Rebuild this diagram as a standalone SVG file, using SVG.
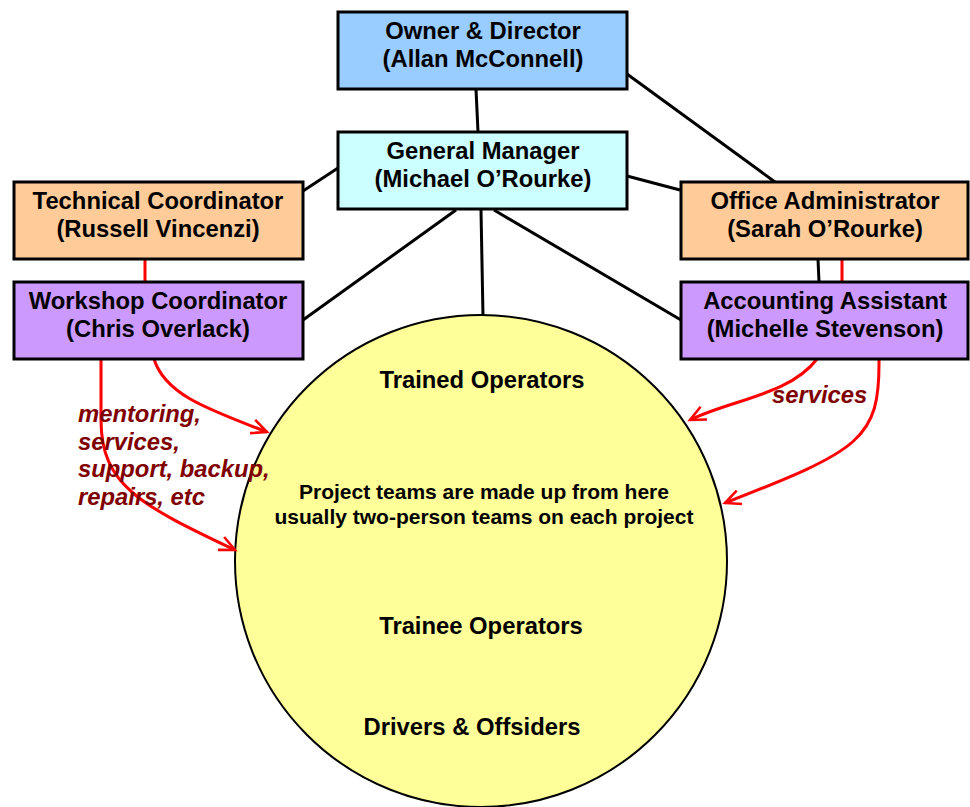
<svg xmlns="http://www.w3.org/2000/svg" width="970" height="807" viewBox="0 0 970 807">
<style>
.box{stroke:#000;stroke-width:3}
.t{font-family:"Liberation Sans",Arial,sans-serif;font-weight:bold;font-size:23.8px;fill:#000;text-anchor:middle}
.c{font-family:"Liberation Sans",Arial,sans-serif;font-weight:bold;fill:#000;text-anchor:middle}
.lbl{font-family:"Liberation Sans",Arial,sans-serif;font-weight:bold;font-style:italic;font-size:23.8px;fill:#800000}
.bl{stroke:#000;stroke-width:3;fill:none}
.rd{stroke:#f00;stroke-width:3;fill:none}
.ar{stroke:#f00;stroke-width:3;fill:none;marker-end:url(#arr)}
</style>
<defs>
<marker id="arr" viewBox="0 0 20 20" refX="17" refY="10" markerWidth="22" markerHeight="22" orient="auto" markerUnits="userSpaceOnUse">
<path d="M3,3.5 L17,10 L3,16.5" fill="none" stroke="#f00" stroke-width="2.3"/>
</marker>
</defs>
<rect width="970" height="807" fill="#fff"/>
<g id="pool">
<circle cx="481" cy="561" r="246" fill="#FFFF99" stroke="#000" stroke-width="2"/>
<text class="c" x="482" y="388" font-size="23.8">Trained Operators</text>
<text class="c" x="484" y="499" font-size="21">Project teams are made up from here</text>
<text class="c" x="484" y="524" font-size="21">usually two-person teams on each project</text>
<text class="c" x="481" y="634" font-size="23.8">Trainee Operators</text>
<text class="c" x="472" y="735" font-size="23.8">Drivers &amp; Offsiders</text>
</g>
<g id="connectors">
<line class="bl" x1="476" y1="89" x2="478" y2="132"/>
<line class="bl" x1="627" y1="74" x2="775" y2="182"/>
<line class="bl" x1="338" y1="168" x2="303" y2="191"/>
<line class="bl" x1="627" y1="176" x2="680" y2="190"/>
<line class="bl" x1="456" y1="210" x2="303" y2="320"/>
<line class="bl" x1="481" y1="210" x2="483" y2="316"/>
<line class="bl" x1="494" y1="210" x2="681" y2="320"/>
<line class="bl" x1="818" y1="259" x2="819" y2="282"/>
<line class="rd" x1="145" y1="259" x2="145" y2="282"/>
<line class="rd" x1="842" y1="259" x2="842" y2="282"/>
<path class="ar" d="M101,359 L101,420 C101,485 140,505 235,550"/>
<path class="ar" d="M154,359 C165,395 210,410 267,432"/>
<path class="ar" d="M817,359 C790,395 730,400 690,420"/>
<path class="ar" d="M879,359 C880,440 860,450 725,503"/>
</g>
<g id="owner">
<rect class="box" x="338" y="12" width="289" height="77" fill="#99CCFF"/>
<text class="t" x="483" y="39">Owner &amp; Director</text>
<text class="t" x="483" y="67">(Allan McConnell)</text>
</g>
<g id="gm">
<rect class="box" x="338" y="132" width="289" height="77" fill="#CCFFFF"/>
<text class="t" x="483" y="159">General Manager</text>
<text class="t" x="483" y="187">(Michael O’Rourke)</text>
</g>
<g id="technical">
<rect class="box" x="14" y="182" width="289" height="77" fill="#FFCC99"/>
<text class="t" x="158" y="209">Technical Coordinator</text>
<text class="t" x="158" y="237">(Russell Vincenzi)</text>
</g>
<g id="office">
<rect class="box" x="681" y="182" width="287" height="77" fill="#FFCC99"/>
<text class="t" x="825" y="209">Office Administrator</text>
<text class="t" x="825" y="237">(Sarah O’Rourke)</text>
</g>
<g id="workshop">
<rect class="box" x="14" y="282" width="289" height="77" fill="#CC99FF"/>
<text class="t" x="158" y="309">Workshop Coordinator</text>
<text class="t" x="158" y="337">(Chris Overlack)</text>
</g>
<g id="accounting">
<rect class="box" x="681" y="282" width="287" height="77" fill="#CC99FF"/>
<text class="t" x="825" y="309">Accounting Assistant</text>
<text class="t" x="825" y="337">(Michelle Stevenson)</text>
</g>
<g id="labels">
<text class="lbl" x="78" y="422">mentoring,</text>
<text class="lbl" x="78" y="450">services,</text>
<text class="lbl" x="78" y="477">support, backup,</text>
<text class="lbl" x="78" y="505">repairs, etc</text>
<text class="lbl" x="772" y="403">services</text>
</g>
</svg>
